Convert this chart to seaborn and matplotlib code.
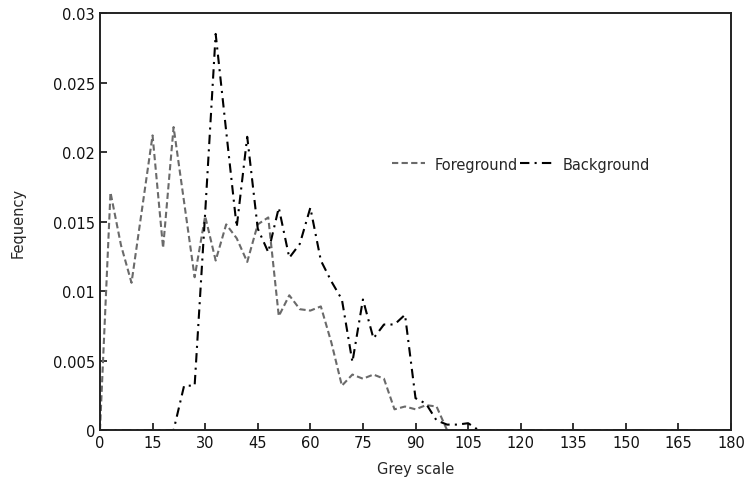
import matplotlib
matplotlib.use("Agg")
import matplotlib.pyplot as plt
from matplotlib.ticker import FuncFormatter
import numpy as np
import pandas as pd
import seaborn as sns

sns.set_style("ticks")
plt.rcParams['font.family'] = ['DejaVu Sans']

# grey level bins (step of 3)
grey = list(range(0, 183, 3))

foreground = [0, 0.0171, 0.0133, 0.0106, 0.0159, 0.0212, 0.0131, 0.0218, 0.0164, 0.0110,
              0.0154, 0.0122, 0.0148, 0.0138, 0.0121, 0.0148, 0.0153, 0.0082, 0.0097, 0.0087,
              0.0086, 0.0089, 0.0063, 0.0032, 0.0040, 0.0037, 0.0040, 0.0037, 0.0015, 0.0017,
              0.0015, 0.0018, 0.0017, 0, 0, 0, 0, 0, 0, 0,
              0, 0, 0, 0, 0, 0, 0, 0, 0, 0,
              0, 0, 0, 0, 0, 0, 0, 0, 0, 0, 0]

background = [0, 0, 0, 0, 0, 0, 0, 0, 0.0032, 0.0032,
              0.0156, 0.0285, 0.0215, 0.0146, 0.0211, 0.0145, 0.0128, 0.0160, 0.0124, 0.0134,
              0.0160, 0.0122, 0.0107, 0.0094, 0.0049, 0.0094, 0.0066, 0.0076, 0.0076, 0.0083,
              0.0023, 0.0019, 0.0007, 0.0004, 0.0004, 0.0005, 0, 0, 0, 0,
              0, 0, 0, 0, 0, 0, 0, 0, 0, 0,
              0, 0, 0, 0, 0, 0, 0, 0, 0, 0, 0]

df = pd.DataFrame({'grey': grey, 'Foreground': foreground, 'Background': background})

fig = plt.figure(figsize=(7.46, 4.85), dpi=100)
ax = fig.add_axes([0.134, 0.111, 0.846, 0.86])

sns.lineplot(data=df, x='grey', y='Foreground', ax=ax, color='#6a6a6a',
             linewidth=1.5, label='Foreground')
sns.lineplot(data=df, x='grey', y='Background', ax=ax, color='black',
             linewidth=1.5, label='Background')
ax.lines[0].set_dashes([3, 1.6])
ax.lines[1].set_dashes([4.5, 2.5, 1, 2.5])

ax.set_xlim(0, 180)
ax.set_ylim(0, 0.03)
ax.set_xticks(np.arange(0, 181, 15))
ax.set_yticks(np.arange(0, 0.0301, 0.005))
ax.yaxis.set_major_formatter(FuncFormatter(lambda v, p: f"{round(v, 4):g}"))
ax.tick_params(direction='in', length=5, width=1.2, labelsize=10.5, colors='#111111')
for s in ax.spines.values():
    s.set_linewidth(1.4)
    s.set_color('#222222')

ax.set_xlabel('Grey scale', fontsize=10.5, labelpad=8)
ax.set_ylabel('Fequency', fontsize=10.5, labelpad=20)

leg = ax.legend(loc='center', bbox_to_anchor=(0.667, 0.638), frameon=False, ncol=2,
                fontsize=10.5, handlelength=2.3, handletextpad=0.6, columnspacing=0.2)

fig.savefig('out.png', dpi=100)
